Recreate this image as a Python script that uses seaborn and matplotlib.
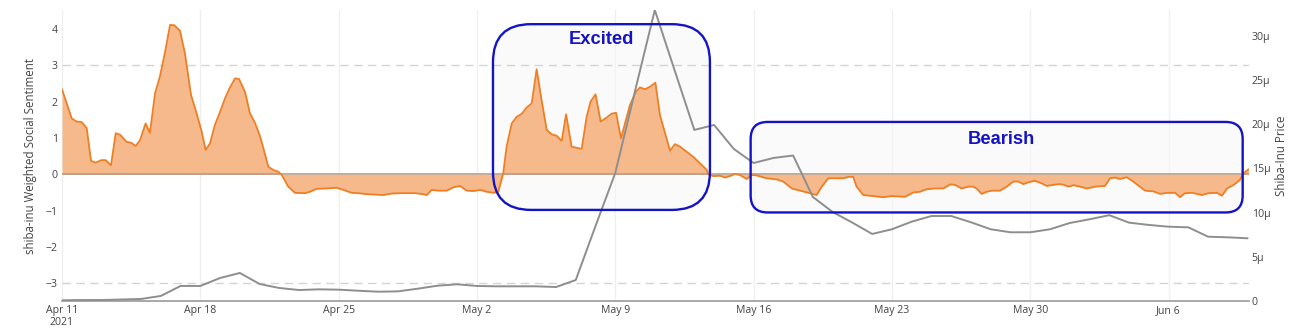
import numpy as np
import pandas as pd
import matplotlib
matplotlib.use("Agg")
import matplotlib.pyplot as plt
import matplotlib.dates as mdates
import seaborn as sns
from matplotlib.patches import FancyBboxPatch
from matplotlib.transforms import IdentityTransform

# ---------------- data ----------------
START = "2021-04-11"

# daily Shiba-Inu price (in millionths of USD), Apr 11 .. Jun 10
price_micro = [0.08, 0.11, 0.11, 0.17, 0.23, 0.57, 1.70, 1.70, 2.60, 3.17,
               1.92, 1.47, 1.24, 1.32, 1.28, 1.16, 1.05, 1.09, 1.39, 1.73,
               1.89, 1.70, 1.66, 1.66, 1.66, 1.58, 2.37, 8.48, 14.48, 23.75,
               32.9, 26.1, 19.34, 19.9, 17.19, 15.6, 16.17, 16.45, 11.76, 10.06,
               8.86, 7.58, 8.11, 8.97, 9.61, 9.61, 8.90, 8.11, 7.77, 7.77,
               8.11, 8.82, 9.24, 9.70, 8.86, 8.60, 8.40, 8.33, 7.27, 7.20, 7.09]

# weighted social sentiment: time (days after Apr 11) and value
sent_day = [0.00, 0.24, 0.49, 0.74, 0.99, 1.25, 1.47, 1.70, 2.00, 2.21,
            2.48, 2.72, 2.94, 3.27, 3.49, 3.73, 3.95, 4.23, 4.45, 4.71,
            4.96, 5.21, 5.47, 5.68, 5.97, 6.22, 6.53, 6.81, 7.07, 7.27,
            7.49, 7.74, 8.00, 8.25, 8.50, 8.76, 8.96, 9.26, 9.51, 9.77,
            10.02, 10.19, 10.44, 10.69, 10.95, 11.12, 11.45, 11.79, 12.30, 12.55,
            12.89, 13.39, 13.90, 14.24, 14.66, 15.00, 15.50, 16.26, 16.68, 17.19,
            17.86, 18.20, 18.46, 18.71, 19.04, 19.47, 19.80, 20.14, 20.48, 20.82,
            21.15, 21.49, 21.83, 22.08, 22.33, 22.50, 22.76, 23.01, 23.26, 23.52,
            23.77, 24.02, 24.27, 24.53, 24.78, 25.03, 25.29, 25.51, 25.79, 26.30,
            26.55, 26.75, 27.00, 27.26, 27.56, 27.82, 28.04, 28.29, 28.74, 29.04,
            29.25, 29.50, 29.76, 30.03, 30.26, 30.52, 30.77, 31.02, 31.28, 31.61,
            31.95, 32.29, 32.63, 32.70, 32.96, 33.30, 33.55, 33.80, 34.06, 34.31,
            34.65, 34.90, 35.15, 35.41, 35.66, 36.17, 36.50, 36.93, 37.35, 37.85,
            38.19, 38.45, 38.78, 39.03, 39.54, 39.79, 40.04, 40.21, 40.55, 41.05,
            41.56, 41.99, 42.66, 43.08, 43.42, 43.76, 44.18, 44.60, 44.94, 45.19,
            45.53, 45.87, 46.12, 46.30, 46.54, 46.80, 47.05, 47.47, 47.81, 48.14,
            48.40, 48.65, 48.90, 49.24, 49.58, 49.83, 50.17, 50.50, 50.70, 50.93,
            51.19, 51.52, 51.86, 52.28, 52.78, 53.04, 53.29, 53.54, 53.88, 54.21,
            54.55, 54.81, 55.23, 55.57, 55.91, 56.33, 56.58, 56.83, 57.19, 57.69,
            58.03, 58.45, 58.70, 58.96, 59.30, 59.60, 59.80, 60.05]
sent_val = [2.34, 1.95, 1.54, 1.45, 1.44, 1.27, 0.37, 0.32, 0.39, 0.39,
            0.25, 1.13, 1.09, 0.89, 0.87, 0.78, 0.94, 1.40, 1.14, 2.23,
            2.70, 3.35, 4.11, 4.10, 3.95, 3.33, 2.18, 1.68, 1.17, 0.67,
            0.85, 1.36, 1.72, 2.09, 2.39, 2.64, 2.62, 2.27, 1.68, 1.41,
            1.05, 0.72, 0.21, 0.12, 0.07, -0.02, -0.34, -0.51, -0.52, -0.48,
            -0.40, -0.39, -0.37, -0.43, -0.51, -0.52, -0.55, -0.57, -0.53, -0.52,
            -0.52, -0.54, -0.57, -0.43, -0.45, -0.45, -0.36, -0.32, -0.45, -0.46,
            -0.43, -0.48, -0.51, -0.48, 0.03, 0.76, 1.40, 1.58, 1.66, 1.84,
            1.95, 2.89, 2.04, 1.22, 1.10, 1.06, 0.92, 1.65, 0.76, 0.70,
            1.58, 2.00, 2.20, 1.45, 1.56, 1.67, 1.69, 0.99, 1.90, 2.27,
            2.39, 2.34, 2.41, 2.52, 1.63, 1.13, 0.65, 0.83, 0.76, 0.62,
            0.48, 0.30, 0.12, 0.00, -0.05, -0.04, -0.09, -0.05, 0.01, -0.02,
            -0.13, -0.02, -0.03, -0.07, -0.11, -0.14, -0.20, -0.39, -0.45, -0.52,
            -0.57, -0.34, -0.11, -0.11, -0.11, -0.07, -0.07, -0.34, -0.57, -0.60,
            -0.63, -0.60, -0.62, -0.50, -0.48, -0.41, -0.39, -0.39, -0.28, -0.29,
            -0.39, -0.34, -0.34, -0.40, -0.54, -0.48, -0.45, -0.45, -0.34, -0.20,
            -0.20, -0.27, -0.22, -0.18, -0.25, -0.32, -0.29, -0.27, -0.29, -0.34,
            -0.30, -0.34, -0.39, -0.34, -0.32, -0.11, -0.09, -0.13, -0.08, -0.20,
            -0.34, -0.45, -0.47, -0.54, -0.51, -0.51, -0.63, -0.52, -0.51, -0.57,
            -0.52, -0.51, -0.59, -0.39, -0.29, -0.16, 0.03, 0.14]

xtick_dates = ["2021-04-11", "2021-04-18", "2021-04-25", "2021-05-02", "2021-05-09",
               "2021-05-16", "2021-05-23", "2021-05-30", "2021-06-06"]
xtick_labels = ["Apr 11\n2021", "Apr 18", "Apr 25", "May 2", "May 9",
                "May 16", "May 23", "May 30", "Jun 6"]
left_ticks = [-3, -2, -1, 0, 1, 2, 3, 4]
right_ticks = [0, 5, 10, 15, 20, 25, 30]
right_labels = ["0", "5µ", "10µ", "15µ", "20µ", "25µ", "30µ"]

# annotation boxes: (label, start day, end day, low, high, corner radius px, text day, text y)
boxes = [("Excited", 21.81, 32.79, -0.98, 4.13, 38, 27.28, 3.72),
         ("Bearish", 34.85, 59.75, -1.05, 1.44, 17, 47.56, 0.97)]

# ---------------- frames ----------------
start = pd.Timestamp(START)
price_df = pd.DataFrame({
    "date": pd.date_range(START, periods=len(price_micro), freq="D"),
    "price": price_micro,
})
sent_df = pd.DataFrame({
    "date": start + pd.to_timedelta(sent_day, unit="D"),
    "sentiment": sent_val,
})

# ---------------- style ----------------
sns.set_theme(style="white")
plt.rcParams["font.family"] = ["Open Sans", "DejaVu Sans"]
TXT = "#444444"
ORANGE_LINE = "#ee7f24"
ORANGE_FILL = "#f6b98c"
GRAY_LINE = "#8e8e8e"
BLUE = "#1414c4"

W, H = 1293, 336
fig = plt.figure(figsize=(W / 100, H / 100), dpi=100)
fig.patch.set_facecolor("white")
ax = fig.add_axes([62 / W, 35 / H, 1187 / W, 291 / H])
ax.set_facecolor("white")

x0 = start
x1 = start + pd.Timedelta(days=60.07)

# vertical grid
for d in xtick_dates:
    ax.axvline(pd.Timestamp(d), color="#efefef", lw=0.9, zorder=0)
# threshold lines
for yv in (3, -3):
    ax.axhline(yv, color="#d4d4d4", lw=1, ls=(0, (6, 4)), zorder=0.3)

ax.fill_between(sent_df["date"], sent_df["sentiment"], 0,
                color=ORANGE_FILL, lw=0, zorder=1)
ax.axhline(0, color="#b39683", lw=1.1, zorder=1.5)
sns.lineplot(data=sent_df, x="date", y="sentiment", ax=ax,
             color=ORANGE_LINE, lw=1.3, zorder=2)

ax.set_xlim(x0, x1)
ax.set_ylim(-3.486, 4.52)
ax.set_yticks(left_ticks)
ax.set_yticklabels([str(t).replace("-", "\u2212") for t in left_ticks])
ax.set_xticks([pd.Timestamp(d) for d in xtick_dates])
ax.set_xticklabels(xtick_labels, linespacing=1.05)
ax.tick_params(axis="both", length=0, labelsize=7.6, labelcolor=TXT)
ax.tick_params(axis="x", pad=3)
ax.tick_params(axis="y", pad=3)
ax.set_xlabel("")
ax.set_ylabel("shiba-inu Weighted Social Sentiment", fontsize=8.3, color=TXT, labelpad=6)
for s in ("top", "left", "right"):
    ax.spines[s].set_visible(False)
ax.spines["bottom"].set_color("#999999")
ax.spines["bottom"].set_linewidth(1.2)

ax2 = ax.twinx()
sns.lineplot(data=price_df, x="date", y="price", ax=ax2,
             color=GRAY_LINE, lw=1.4, zorder=3)
ax2.set_xlim(x0, x1)
ax2.set_ylim(0, 32.9)
ax2.set_yticks(right_ticks)
ax2.set_yticklabels(right_labels)
ax2.tick_params(axis="y", length=0, labelsize=7.6, labelcolor=TXT, pad=2)
ax2.set_ylabel("Shiba-Inu Price", fontsize=8.3, color=TXT, labelpad=3)
ax2.set_xlabel("")
for s in ax2.spines.values():
    s.set_visible(False)
ax2.grid(False)
ax.grid(False)

# annotation boxes (drawn in pixel space so corners stay round)
fig.canvas.draw()
for label, d0, d1, lo, hi, rad, td, ty in boxes:
    xa = mdates.date2num(start + pd.Timedelta(days=d0))
    xb = mdates.date2num(start + pd.Timedelta(days=d1))
    (px0, py0) = ax.transData.transform((xa, lo))
    (px1, py1) = ax.transData.transform((xb, hi))
    fill = FancyBboxPatch((px0, py0), px1 - px0, py1 - py0,
                          boxstyle=f"round,pad=0,rounding_size={rad}",
                          transform=IdentityTransform(), facecolor="#f7f7f7",
                          edgecolor="none", alpha=0.6, zorder=0.2)
    ax.add_patch(fill)
    edge = FancyBboxPatch((px0, py0), px1 - px0, py1 - py0,
                          boxstyle=f"round,pad=0,rounding_size={rad}",
                          transform=IdentityTransform(), facecolor="none",
                          edgecolor=BLUE, lw=1.7, zorder=5)
    ax2.add_patch(edge)
    ax2.text(mdates.date2num(start + pd.Timedelta(days=td)),
             ax2.transData.inverted().transform(ax.transData.transform((xa, ty)))[1],
             label, ha="center", va="center", color=BLUE, fontsize=13.2,
             fontweight="bold", family=["Liberation Sans", "DejaVu Sans"], zorder=6)

fig.savefig("out.png", dpi=100)
